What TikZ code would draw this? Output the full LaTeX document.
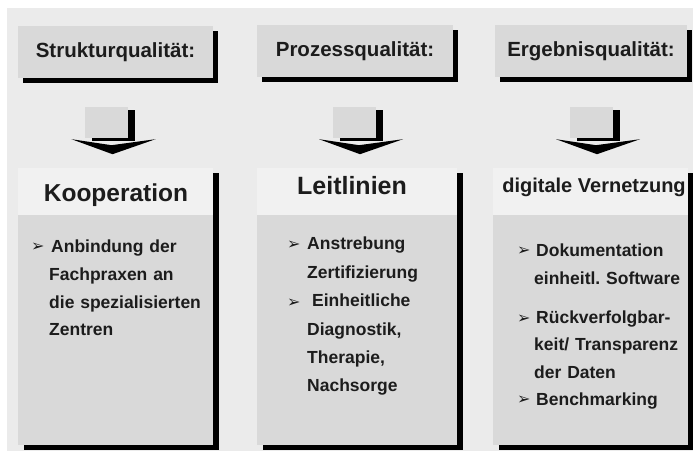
\documentclass[tikz,border=0pt]{standalone}
\usepackage{fontspec}
\setmainfont{Liberation Sans}
\newfontfamily\symfont{DejaVu Sans}
\usepackage{tikz}
\usetikzlibrary{positioning, shadows}
\definecolor{backgr}{RGB}{235,235,235}
\definecolor{boxgray}{RGB}{217,217,217}
\definecolor{titlebg}{RGB}{241,241,241}
\definecolor{inkgray}{RGB}{28,28,28}
\frenchspacing
\tikzset{
  headbox/.style={fill=boxgray, minimum height=52pt, inner sep=0pt, text=inkgray,
    font=\bfseries\fontsize{20.5}{24}\selectfont,
    drop shadow={shadow xshift=5pt, shadow yshift=-5pt, fill=black, opacity=1}},
  shaftbox/.style={fill=boxgray, minimum width=43pt, minimum height=31pt, inner sep=0pt,
    drop shadow={shadow xshift=7pt, shadow yshift=-3pt, fill=black, opacity=1}},
  panelbox/.style={fill=titlebg, minimum height=277pt, inner sep=0pt,
    drop shadow={shadow xshift=6pt, shadow yshift=-5pt, fill=black, opacity=1}},
  bodybox/.style={fill=boxgray, minimum height=230pt, inner sep=0pt},
  paneltitle/.style={inner sep=0pt, text=inkgray, font=\bfseries\fontsize{24.5}{28}\selectfont},
  itemtext/.style={inner sep=0pt, text=inkgray, text width=170pt, align=left,
    font=\bfseries\fontsize{17.5}{27.5}\selectfont},
  bullet/.style={inner sep=0pt, text=inkgray, font=\symfont\fontsize{16}{16}\selectfont}
}
\begin{document}
\begin{tikzpicture}[x=1pt, y=-1pt]
  \useasboundingbox (0,0) rectangle (693,454);
  \fill[white] (0,0) rectangle (693,454);
  \fill[backgr] (7,8) rectangle (693,451);

  \node[headbox, minimum width=195pt] (struk) at (115.5,52.5) {Strukturqualität:};
  \node[headbox, minimum width=196pt] (proz) at (355,51.5) {Prozessqualität:};
  \node[headbox, minimum width=192pt] (ergeb) at (591,51.5) {Ergebnisqualität:};

  \foreach \n/\cx in {1/106.5, 2/354, 3/591} {
    \node[shaftbox] (shaft\n) at (\cx,122.5) {};
    \fill[black] (shaft\n.south) ++(-35,1) -- ++(40,6) -- ++(44,-6) -- ++(-43,15) -- cycle;
  }

  \node[panelbox, minimum width=195pt] (koop) at (115.5,306.5) {};
  \node[bodybox, minimum width=195pt, anchor=south] (koopbody) at (koop.south) {};
  \node[panelbox, minimum width=200pt] (leit) at (357,306.5) {};
  \node[bodybox, minimum width=200pt, anchor=south] (leitbody) at (leit.south) {};
  \node[panelbox, minimum width=195pt] (vernetz) at (590.5,306.5) {};
  \node[bodybox, minimum width=195pt, anchor=south] (vernetzbody) at (vernetz.south) {};

  \node[paneltitle, anchor=base] (kooptitle) at (116,202) {Kooperation};
  \node[paneltitle, anchor=base, font=\bfseries\fontsize{25}{28}\selectfont] (leittitle) at (352,195) {Leitlinien};
  \node[paneltitle, anchor=base, font=\bfseries\fontsize{20}{24}\selectfont] (vernetztitle) at (594,193) {digitale Vernetzung};

  \node[bullet, anchor=base west] (b11) at (31,252) {➢};
  \node[itemtext, anchor=base west] (koopitems) at (49,253)
    {\hspace*{2pt}Anbindung der\\Fachpraxen an\\die spezialisierten\\Zentren};

  \node[bullet, anchor=base west] (b21) at (287,250) {➢};
  \node[bullet, anchor=base west] (b22) at (287,307) {➢};
  \node[itemtext, anchor=base west, font=\bfseries\fontsize{17.5}{28.4}\selectfont] (leititems) at (307,250)
    {Anstrebung\\Zertifizierung\\\hspace*{5pt}Einheitliche\\Diagnostik,\\Therapie,\\Nachsorge};

  \node[bullet, anchor=base west] (b31) at (517,256) {➢};
  \node[bullet, anchor=base west] (b32) at (517,323) {➢};
  \node[bullet, anchor=base west] (b33) at (517,404) {➢};
  \node[itemtext, anchor=base west] (vernetzitems) at (534,257)
    {\hspace*{2pt}Dokumentation\\einheitl. Software\\[11.5pt]\hspace*{2pt}Rückverfolgbar-\\keit/ Transparenz\\der Daten\\\hspace*{2pt}Benchmarking};
\end{tikzpicture}
\end{document}
